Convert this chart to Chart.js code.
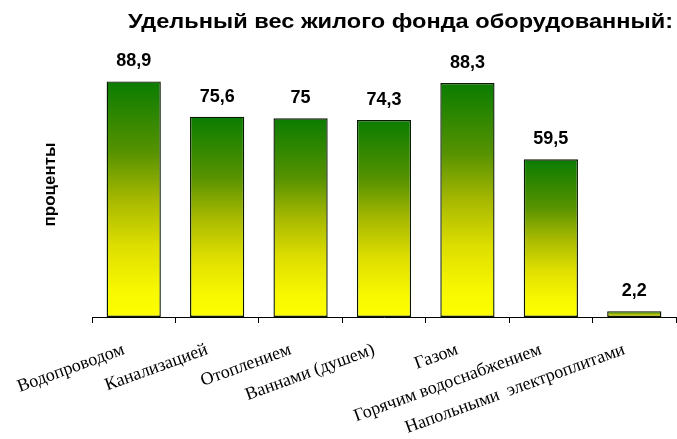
<!DOCTYPE html>
<html>
<head>
<meta charset="utf-8">
<script src="https://cdn.jsdelivr.net/npm/chart.js@4.4.1/dist/chart.umd.min.js"></script>
<style>
  html, body { margin: 0; padding: 0; background: #fff; }
  #wrap { width: 677px; height: 439px; }
</style>
</head>
<body>
<div id="wrap"><canvas id="chart"></canvas></div>
<script>
const categories = ['Водопроводом', 'Канализацией', 'Отоплением', 'Ваннами (душем)', 'Газом', 'Горячим водоснабжением', 'Напольными  электроплитами'];
const values = [88.9, 75.6, 75, 74.3, 88.3, 59.5, 2.2];
const titleText = 'Удельный вес жилого фонда оборудованный:';
const yTitle = 'проценты';

// gradient stops, top of bar -> base
const fillStops = [[0, '#0a7c00'], [0.3, '#569200'], [0.5, '#a6b800'], [0.7, '#dede00'], [0.88, '#f7f700'], [1, '#ffff00']];

function barFill(ctx) {
  const chart = ctx.chart;
  if (!chart.chartArea || ctx.type !== 'data') return fillStops[0][1];
  const y = chart.scales.y;
  const top = y.getPixelForValue(ctx.raw);
  const bottom = y.getPixelForValue(0);
  const g = chart.ctx.createLinearGradient(0, top, 0, bottom);
  fillStops.forEach(s => g.addColorStop(s[0], s[1]));
  return g;
}

const valueLabels = {
  id: 'valueLabels',
  afterDatasetsDraw(chart) {
    const c = chart.ctx;
    const meta = chart.getDatasetMeta(0);
    c.save();
    c.font = 'bold 18px "Liberation Sans", Arial, sans-serif';
    c.fillStyle = '#000';
    c.textAlign = 'center';
    c.textBaseline = 'middle';
    meta.data.forEach((bar, i) => {
      c.fillText(String(values[i]).replace('.', ','), bar.x, bar.y - 20);
    });
    c.restore();
  }
};

// title in the picture is stretched sideways, so scale it a bit
const wideTitle = {
  id: 'wideTitle',
  afterDraw(chart) {
    const c = chart.ctx;
    c.save();
    c.font = 'bold 21px "Liberation Sans", Arial, sans-serif';
    const w = c.measureText(titleText).width;
    const sx = 545 / w;
    c.translate(673, 28);
    c.scale(sx, 1);
    c.fillStyle = '#000';
    c.textAlign = 'right';
    c.textBaseline = 'alphabetic';
    c.fillText(titleText, 0, 0);
    c.restore();
  }
};

new Chart(document.getElementById('chart'), {
  type: 'bar',
  data: {
    labels: categories,
    datasets: [{
      data: values,
      backgroundColor: barFill,
      borderColor: '#0a1a00',
      borderWidth: 1.4,
      borderSkipped: false,
      barPercentage: 0.65,
      categoryPercentage: 1
    }]
  },
  options: {
    responsive: true,
    maintainAspectRatio: false,
    animation: false,
    layout: { padding: { left: 0, right: 1, top: 52, bottom: 0 } },
    plugins: {
      legend: { display: false },
      tooltip: { enabled: false },
      title: { display: false }
    },
    scales: {
      x: {
        grid: { display: true, offset: true, drawOnChartArea: false, drawTicks: true, tickLength: 6, color: '#000' },
        border: { display: true, color: '#000', width: 1 },
        ticks: {
          color: '#000',
          font: { family: '"Liberation Serif", "Times New Roman", serif', size: 18 },
          minRotation: 20,
          maxRotation: 20,
          autoSkip: false,
          padding: 16,
          labelOffset: -10
        },
        afterFit(scale) { scale.height = 122; }
      },
      y: {
        min: 0,
        max: 100,
        grid: { display: false, drawTicks: false },
        border: { display: false },
        ticks: { display: false },
        title: {
          display: true,
          text: yTitle,
          color: '#000',
          font: { family: '"Liberation Sans", Arial, sans-serif', size: 17, weight: 'bold' },
          padding: { top: 40, bottom: 0 }
        },
        afterFit(scale) { scale.width = 92; }
      }
    }
  },
  plugins: [valueLabels, wideTitle]
});
</script>
</body>
</html>
